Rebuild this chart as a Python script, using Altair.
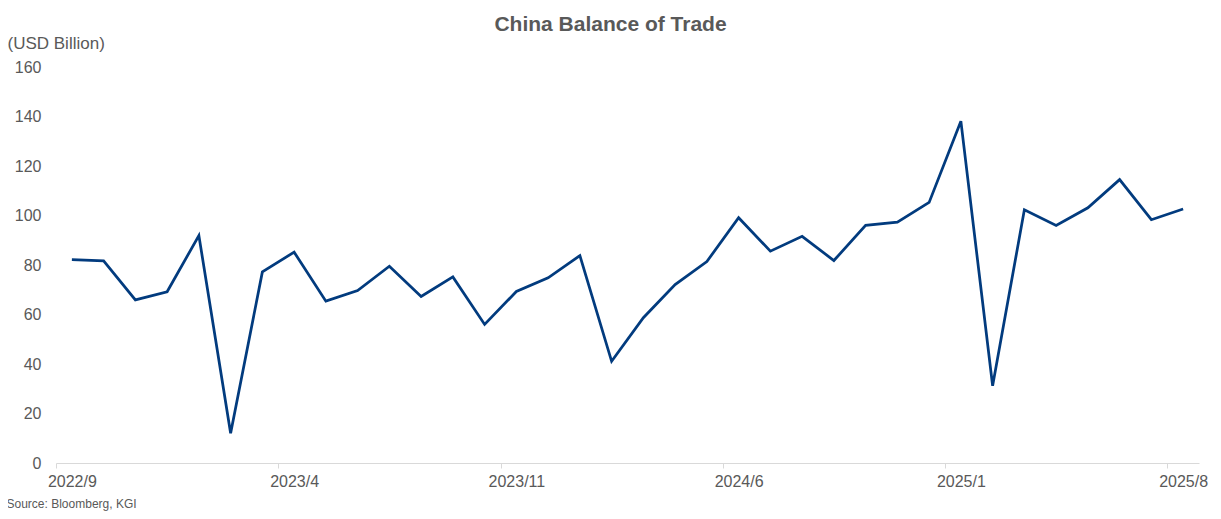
import altair as alt
import pandas as pd

months = [
    "2022/9", "2022/10", "2022/11", "2022/12",
    "2023/1", "2023/2", "2023/3", "2023/4", "2023/5", "2023/6",
    "2023/7", "2023/8", "2023/9", "2023/10", "2023/11", "2023/12",
    "2024/1", "2024/2", "2024/3", "2024/4", "2024/5", "2024/6",
    "2024/7", "2024/8", "2024/9", "2024/10", "2024/11", "2024/12",
    "2025/1", "2025/2", "2025/3", "2025/4", "2025/5", "2025/6",
    "2025/7", "2025/8",
]
balance = [
    82.2, 81.7, 65.9, 69.2, 91.9, 12.0, 77.2, 85.2, 65.4, 69.7,
    79.5, 67.3, 75.2, 56.0, 69.3, 74.8, 83.8, 41.1, 58.7, 72.1,
    81.4, 99.1, 85.6, 91.6, 81.8, 96.0, 97.3, 105.3, 138.1, 31.2,
    102.3, 96.0, 103.1, 114.5, 98.3, 102.6,
]
x_tick_labels = ["2022/9", "2023/4", "2023/11", "2024/6", "2025/1", "2025/8"]
y_ticks = [0, 20, 40, 60, 80, 100, 120, 140, 160]

df = pd.DataFrame({"month": months, "value": balance})

W = 1143
H = 396
half_step = W / len(months) / 2

FONT = "Liberation Sans"
GRAY = "#595959"

chart = (
    alt.Chart(df)
    .mark_line(color="#023B7E", strokeWidth=2.75, strokeJoin="miter")
    .encode(
        x=alt.X(
            "month:O",
            sort=months,
            scale=alt.Scale(type="point", padding=0.5),
            axis=alt.Axis(
                values=x_tick_labels,
                labelAngle=0,
                labelFontSize=16,
                labelColor=GRAY,
                labelFont=FONT,
                labelPadding=5,
                tickOffset=-half_step,
                labelOffset=half_step,
                tickSize=5,
                tickColor="#D9D9D9",
                domainColor="#D9D9D9",
                domainWidth=1,
                title="Source: Bloomberg, KGI",
                titleFont=FONT,
                titleFontSize=12,
                titleFontWeight="normal",
                titleColor=GRAY,
                titleAnchor="start",
                titleAlign="left",
                titleBaseline="alphabetic",
                titleX=-50,
                titleY=44,
                grid=False,
            ),
        ),
        y=alt.Y(
            "value:Q",
            scale=alt.Scale(domain=[0, 160], nice=False, zero=True),
            axis=alt.Axis(
                values=y_ticks,
                labelFontSize=16,
                labelColor=GRAY,
                labelFont=FONT,
                labelPadding=15,
                ticks=False,
                domain=False,
                grid=False,
                title="(USD Billion)",
                titleFont=FONT,
                titleFontSize=17,
                titleFontWeight="normal",
                titleColor=GRAY,
                titleAngle=0,
                titleAlign="left",
                titleBaseline="alphabetic",
                titleX=-49,
                titleY=-19,
            ),
        ),
    )
    .properties(
        width=W,
        height=H,
        title=alt.TitleParams(
            "China Balance of Trade",
            fontSize=21,
            fontWeight="bold",
            color=GRAY,
            font=FONT,
            anchor="middle",
            frame="group",
            dx=-17,
            dy=23,
            offset=5,
            baseline="alphabetic",
        ),
        autosize=alt.AutoSizeParams(type="none"),
        padding={"left": 48, "top": 59, "right": 10, "bottom": 48},
        background="white",
    )
    .configure_view(strokeWidth=0, stroke="transparent")
)

chart.save("out.html", embed_options={"renderer": "svg", "actions": False})
